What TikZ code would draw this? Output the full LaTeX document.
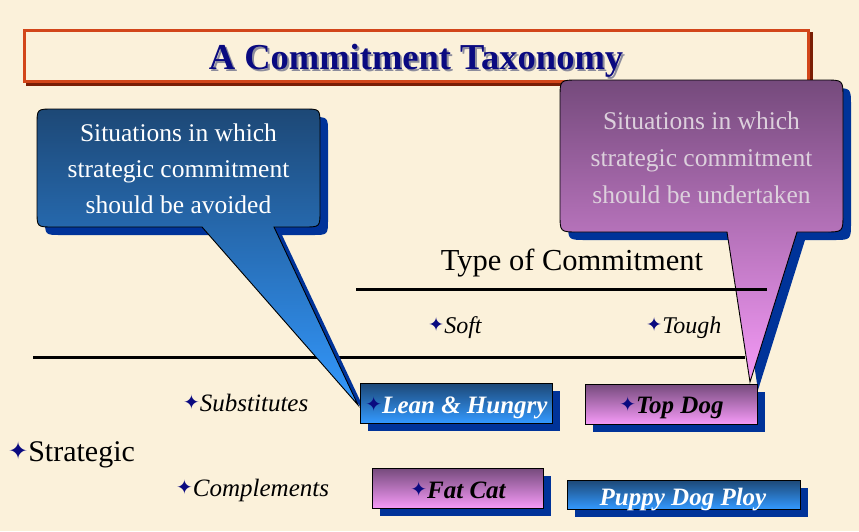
\documentclass[tikz,border=0pt]{standalone}
\usepackage{fontspec}
\setmainfont{Liberation Serif}
\newfontfamily\symfont{DejaVu Sans}
\usetikzlibrary{calc}

\definecolor{paper}{HTML}{FBF1DA}
\definecolor{navy}{HTML}{0A0A80}
\definecolor{shadowblue}{HTML}{003399}
\definecolor{deepblue}{HTML}{1D4876}
\definecolor{skyblue}{HTML}{3399FF}
\definecolor{plum}{HTML}{754A7C}
\definecolor{pinkish}{HTML}{F59AF7}
\definecolor{titlered}{HTML}{D2461A}
\definecolor{titleshadow}{HTML}{7A1E05}
\definecolor{lavtext}{HTML}{DCD0DC}
\definecolor{greyshadow}{HTML}{8C8C9C}

\newcommand\starmark{{\symfont\color{navy}\raisebox{0.06em}{\scalebox{0.8}{✦}}}}
\newcommand\shadowedtitle[1]{\rlap{\hspace{2pt}\raisebox{-2pt}{\color{greyshadow}#1}}#1}

\tikzset{
  bluefill/.style={top color=deepblue, bottom color=skyblue},
  pinkfill/.style={top color=plum, bottom color=pinkish},
  outline/.style={draw=black, line width=0.9pt},
  dropshade/.style={fill=shadowblue},
  rule/.style={line width=3pt, black},
  boxlabel/.style={anchor=base, inner sep=0pt, font=\bfseries\itshape\fontsize{25}{28}\selectfont},
  axislabel/.style={anchor=base west, inner sep=0pt, font=\itshape\fontsize{24}{26}\selectfont},
  bubbletext/.style={anchor=base, inner sep=0pt, font=\fontsize{25.5}{28}\selectfont},
}

% outlines of the two speech bubbles (rounded box + pointer)
\def\leftbubble{(53,109) -- (304,109) .. controls (320,109) .. (320,125) -- (320,211)
  .. controls (320,227) .. (304,227) -- (274,227) -- (358,405) -- (202,227) -- (53,227)
  .. controls (37,227) .. (37,211) -- (37,125) .. controls (37,109) .. (53,109) -- cycle}
\def\rightbubble{(578,80) -- (825,80) .. controls (843,80) .. (843,98) -- (843,214)
  .. controls (843,232) .. (825,232) -- (797,232) -- (750,382) -- (727,232) -- (578,232)
  .. controls (560,232) .. (560,214) -- (560,98) .. controls (560,80) .. (578,80) -- cycle}

\begin{document}
\begin{tikzpicture}[x=1pt, y=-1pt]
  \useasboundingbox (0,0) rectangle (859,531);
  \fill[paper] (0,0) rectangle (859,531);

  % title frame
  \draw[titleshadow, line width=3pt] (27,33) rectangle (811,84);
  \draw[titlered, line width=3pt, fill=paper] (24,30) rectangle (808,81);
  \node[anchor=base, inner sep=0pt, text=navy, font=\bfseries\fontsize{36.5}{40}\selectfont]
    (title) at (416,69) {\shadowedtitle{A Commitment Taxonomy}};

  % lower rule (passes behind the left bubble)
  \draw[rule] (33,357) -- (745,357);

  % left bubble
  \fill[shadowblue, shift={(8,8)}] \leftbubble;
  \shade[bluefill] \leftbubble;
  \draw[outline] \leftbubble;
  \node[bubbletext, text=white] (avoidA) at (178.5,141) {Situations in which};
  \node[bubbletext, text=white] (avoidB) at (178.5,177) {strategic commitment};
  \node[bubbletext, text=white] (avoidC) at (178.5,213) {should be avoided};

  % right bubble
  \fill[shadowblue, shift={(8,8)}] \rightbubble;
  \shade[pinkfill] \rightbubble;
  \draw[outline] \rightbubble;
  \node[bubbletext, text=lavtext] (takeA) at (701.5,129) {Situations in which};
  \node[bubbletext, text=lavtext] (takeB) at (701.5,166) {strategic commitment};
  \node[bubbletext, text=lavtext] (takeC) at (701.5,203) {should be undertaken};

  % upper rule and column headings
  \draw[rule] (356,289) -- (767,289);
  \node[anchor=base, inner sep=0pt, font=\fontsize{30.5}{33}\selectfont] (type) at (572,270) {Type of Commitment};
  \node[axislabel] (soft) at (428,333) {\starmark Soft};
  \node[axislabel] (tough) at (646,333) {\starmark Tough};

  % row headings
  \node[axislabel, font=\itshape\fontsize{25}{27}\selectfont] (subst) at (183,411) {\starmark Substitutes};
  \node[anchor=base west, inner sep=0pt, font=\fontsize{30}{33}\selectfont] (strategic) at (8,461) {\starmark Strategic};
  \node[axislabel, font=\itshape\fontsize{25}{27}\selectfont] (compl) at (176,496) {\starmark Complements};

  % Lean & Hungry
  \fill[dropshade] (368,391) rectangle (560,431);
  \shade[bluefill] (360,383) rectangle (552,423);
  \draw[outline] (360,383) rectangle (552,423);
  \node[boxlabel, text=white] (lean) at (456.5,413) {\starmark Lean \& Hungry};

  % Top Dog
  \fill[dropshade] (593,392) rectangle (765,432);
  \shade[pinkfill] (585,384) rectangle (757,424);
  \draw[outline] (585,384) rectangle (757,424);
  \node[boxlabel, text=black] (topdog) at (671.5,413) {\starmark Top Dog};

  % Fat Cat
  \fill[dropshade] (380,476) rectangle (551,516);
  \shade[pinkfill] (372,468) rectangle (543,508);
  \draw[outline] (372,468) rectangle (543,508);
  \node[boxlabel, text=black] (fatcat) at (458,498) {\starmark Fat Cat};

  % Puppy Dog Ploy
  \fill[dropshade] (575,488) rectangle (808,517);
  \shade[bluefill] (567,480) rectangle (800,509);
  \draw[outline] (567,480) rectangle (800,509);
  \node[boxlabel, text=white] (puppy) at (683,505) {Puppy Dog Ploy};
\end{tikzpicture}
\end{document}
